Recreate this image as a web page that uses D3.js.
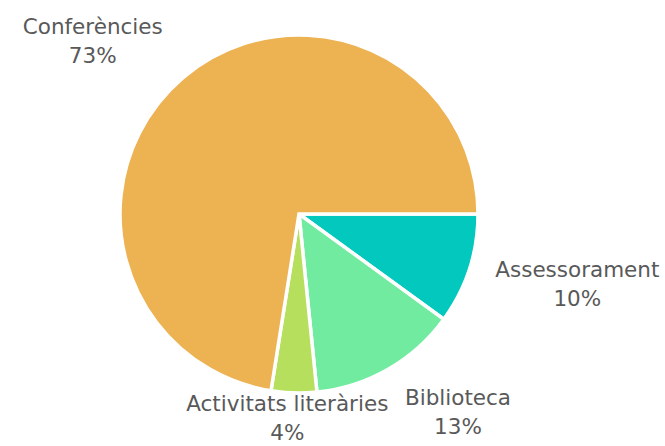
<!DOCTYPE html>
<meta charset="utf-8">
<style>
body { margin: 0; background: #fff; }
text { font-family: "Century Gothic", "DejaVu Sans", sans-serif; fill: #595959; }
</style>
<body>
<div class="chart"></div>
</body>
<script src="https://d3js.org/d3.v7.min.js"></script>
<script>

// slices in drawing order, clockwise from 3 o'clock
var categories = ["Assessorament", "Biblioteca", "Activitats literàries", "Conferències"];
var values = [10.0, 13.4, 4.1, 72.5];
var colors = ["#02C8BD", "#70EBA0", "#B6DF5E", "#EDB251"];

var w = 665,
    h = 446,
    cx = 299,
    cy = 214,
    r = 179;

var svg = d3.select(".chart").append("svg")
    .attr("width", w)
    .attr("height", h);

var total = d3.sum(values);
var data = categories.map(function(c, i) { return {name: c, value: values[i], color: colors[i]}; });

var pie = d3.pie()
    .value(function(d) { return d.value; })
    .sort(null)
    .startAngle(Math.PI / 2)
    .endAngle(Math.PI / 2 + 2 * Math.PI);

var arc = d3.arc().innerRadius(0).outerRadius(r);

var g = svg.append("g").attr("transform", "translate(" + cx + "," + cy + ")");

var arcs = pie(data);

g.selectAll("path")
    .data(arcs)
  .enter().append("path")
    .attr("d", arc)
    .style("fill", function(d) { return d.data.color; })
    .style("stroke", "#fff")
    .style("stroke-width", 3.5)
    .style("stroke-linejoin", "miter");

// labels outside the pie
var fontSize = 21.5,
    lineH = 29,
    pad = 20,
    gapX = 7;

var labels = svg.append("g").selectAll("g")
    .data(arcs)
  .enter().append("g");

labels.each(function(d) {
  var lg = d3.select(this);
  var t1 = lg.append("text").attr("text-anchor", "middle").style("font-size", fontSize + "px")
      .text(d.data.name);
  var t2 = lg.append("text").attr("text-anchor", "middle").style("font-size", fontSize + "px")
      .attr("dy", lineH)
      .text(Math.round(d.data.value / total * 100) + "%");
  var bw = Math.max(t1.node().getComputedTextLength(), t2.node().getComputedTextLength());
  var bh = lineH * 2;
  var a = (d.startAngle + d.endAngle) / 2 - Math.PI / 2;
  var ux = Math.cos(a), uy = Math.sin(a);
  var px = cx + (r + pad) * ux,
      py = cy + (r + pad) * uy;
  var kx = Math.max(-1, Math.min(1, ux * 2));
  var bx = px + kx * (bw / 2 + gapX),
      by = py + uy * bh / 2;
  // keep the label block inside the picture
  by = Math.min(by, h + 1 - bh / 2);
  // first baseline sits a bit above the box centre
  lg.attr("transform", "translate(" + bx + "," + (by - lineH / 2 + fontSize * 0.35) + ")");
});

</script>
